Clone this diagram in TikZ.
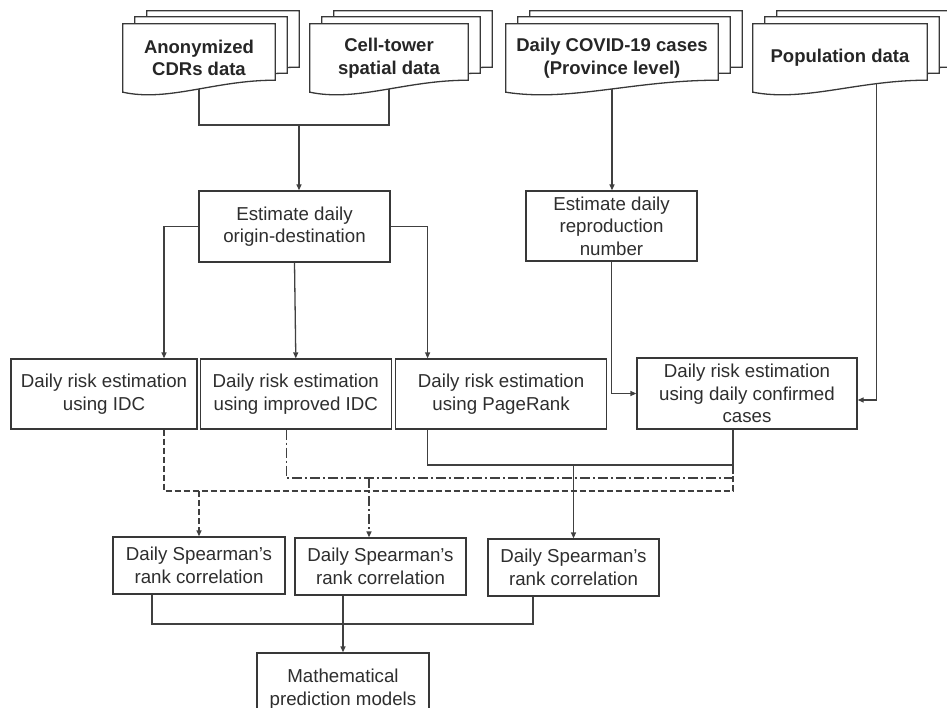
\documentclass[tikz,border=0pt]{standalone}
\usepackage{fontspec}
\setmainfont{Liberation Sans}
\usepackage{tikz}
\usetikzlibrary{arrows.meta,positioning,calc,backgrounds}

\begin{document}
\begin{tikzpicture}[
  x=1pt, y=-1pt,
  doc/.style={rectangle, inner sep=0pt, align=center, text=black!85,
    font=\bfseries\fontsize{18.5}{22.5}\selectfont},
  sheet/.style={draw=black!78, fill=white, line width=1.3pt},
  box/.style={rectangle, draw=black!78, fill=white, line width=1.3pt, align=center,
    text=black!82, inner sep=2pt, font=\fontsize{18.7}{22.5}\selectfont},
  link/.style={line width=1.3pt, black!75},
  arr/.style={link, -{Triangle[length=6pt, width=5pt]}},
  dashlink/.style={dash pattern=on 6pt off 3pt},
  dotlink/.style={dash pattern=on 10pt off 3pt on 2pt off 3pt},
]
\useasboundingbox (0,0) rectangle (947,708);

% input data
\node[doc, minimum width=152, minimum height=68] (cdr) at (199,58) {Anonymized\\CDRs data};
\node[doc, minimum width=158, minimum height=68] (tower) at (389,58) {Cell-tower\\spatial data};
\node[doc, minimum width=212, minimum height=68] (cases) at (612,58) {Daily COVID-19 cases\\(Province level)};
\node[doc, minimum width=174, minimum height=68] (pop) at (840,58) {Population data};

\begin{scope}[on background layer]
\foreach \nm in {cdr,tower,cases,pop}{
  \foreach \dx/\dy in {24/-13,12/-7,0/0}{
    \filldraw[sheet] ($(\nm.south west)+(\dx,\dy)$) -- ($(\nm.north west)+(\dx,\dy)$)
      -- ($(\nm.north east)+(\dx,\dy)$) -- ($(\nm.south east)+(\dx,\dy-12)$)
      .. controls ($(\nm.south west)!0.6!(\nm.south east)+(\dx,\dy-12)$)
      and ($(\nm.south west)!0.3!(\nm.south east)+(\dx,\dy+10)$)
      .. ($(\nm.south west)+(\dx,\dy)$) -- cycle;
  }
}
\end{scope}

% processing
\node[box, minimum width=191, minimum height=71] (od) at (294.5,226.5) {Estimate daily\\origin-destination};
\node[box, minimum width=171, minimum height=70] (repro) at (611.5,226) {Estimate daily\\reproduction\\number};

\node[box, minimum width=186, minimum height=70] (idc) at (104,394) {Daily risk estimation\\using IDC};
\node[box, minimum width=191, minimum height=70, right=2pt of idc] (impidc) {Daily risk estimation\\using improved IDC};
\node[box, minimum width=211, minimum height=70, right=3pt of impidc] (prank) {Daily risk estimation\\using PageRank};
\node[box, minimum width=220, minimum height=71] (conf) at (747,393.5) {Daily risk estimation\\using daily confirmed\\cases};

\node[box, minimum width=172, minimum height=57] (sp1) at (199,565.5) {Daily Spearman’s\\rank correlation};
\node[box, minimum width=171, minimum height=57] (sp2) at (380.5,566.5) {Daily Spearman’s\\rank correlation};
\node[box, minimum width=171, minimum height=57] (sp3) at (573.5,567.5) {Daily Spearman’s\\rank correlation};
\node[box, minimum width=172, minimum height=72] (math) at (343,689) {Mathematical\\prediction models};

\coordinate (jtop) at (299,125);
\coordinate (jsolid) at (573.5,465);
\coordinate (jdot) at (369,478);
\coordinate (jdash) at (199,491);
\coordinate (jbot) at (343,624);

\draw[link] ([yshift=3pt]cdr.south) |- (jtop) -| ([yshift=3pt]tower.south);
\draw[arr] (jtop) -- (jtop |- od.north);
\draw[arr] (od.west) -| ([xshift=60pt]idc.north);
\draw[arr] (od.south) -- (impidc.north);
\draw[arr] (od.east) -| ([xshift=-73.5pt]prank.north);

\draw[arr] ([yshift=3pt]cases.south) -- (cases.south |- repro.north);
\draw[arr] (repro.south) |- (conf.west);
\draw[arr] ([xshift=36.5pt, yshift=9pt]pop.south) |- ([yshift=-6.5pt]conf.east);

\draw[link, dashlink] ([xshift=60pt]idc.south) |- (jdash) -| ([xshift=-14pt]conf.south);
\draw[link, dotlink] ([xshift=-9.5pt]impidc.south) |- (jdot) -| ([xshift=-14pt]conf.south);
\draw[link] ([xshift=-73.5pt]prank.south) |- (jsolid) -| ([xshift=-14pt]conf.south);
\draw[arr, dashlink] (jdash) -- (jdash |- sp1.north);
\draw[arr, dotlink] (jdot) -- (jdot |- sp2.north);
\draw[arr] (jsolid) -- (jsolid |- sp3.north);

\draw[link] ([xshift=-47pt]sp1.south) |- (jbot) -| ([xshift=-40.5pt]sp3.south);
\draw[link] ([xshift=-37.5pt]sp2.south) -- (jbot);
\draw[arr] (jbot) -- (math.north);
\end{tikzpicture}
\end{document}
